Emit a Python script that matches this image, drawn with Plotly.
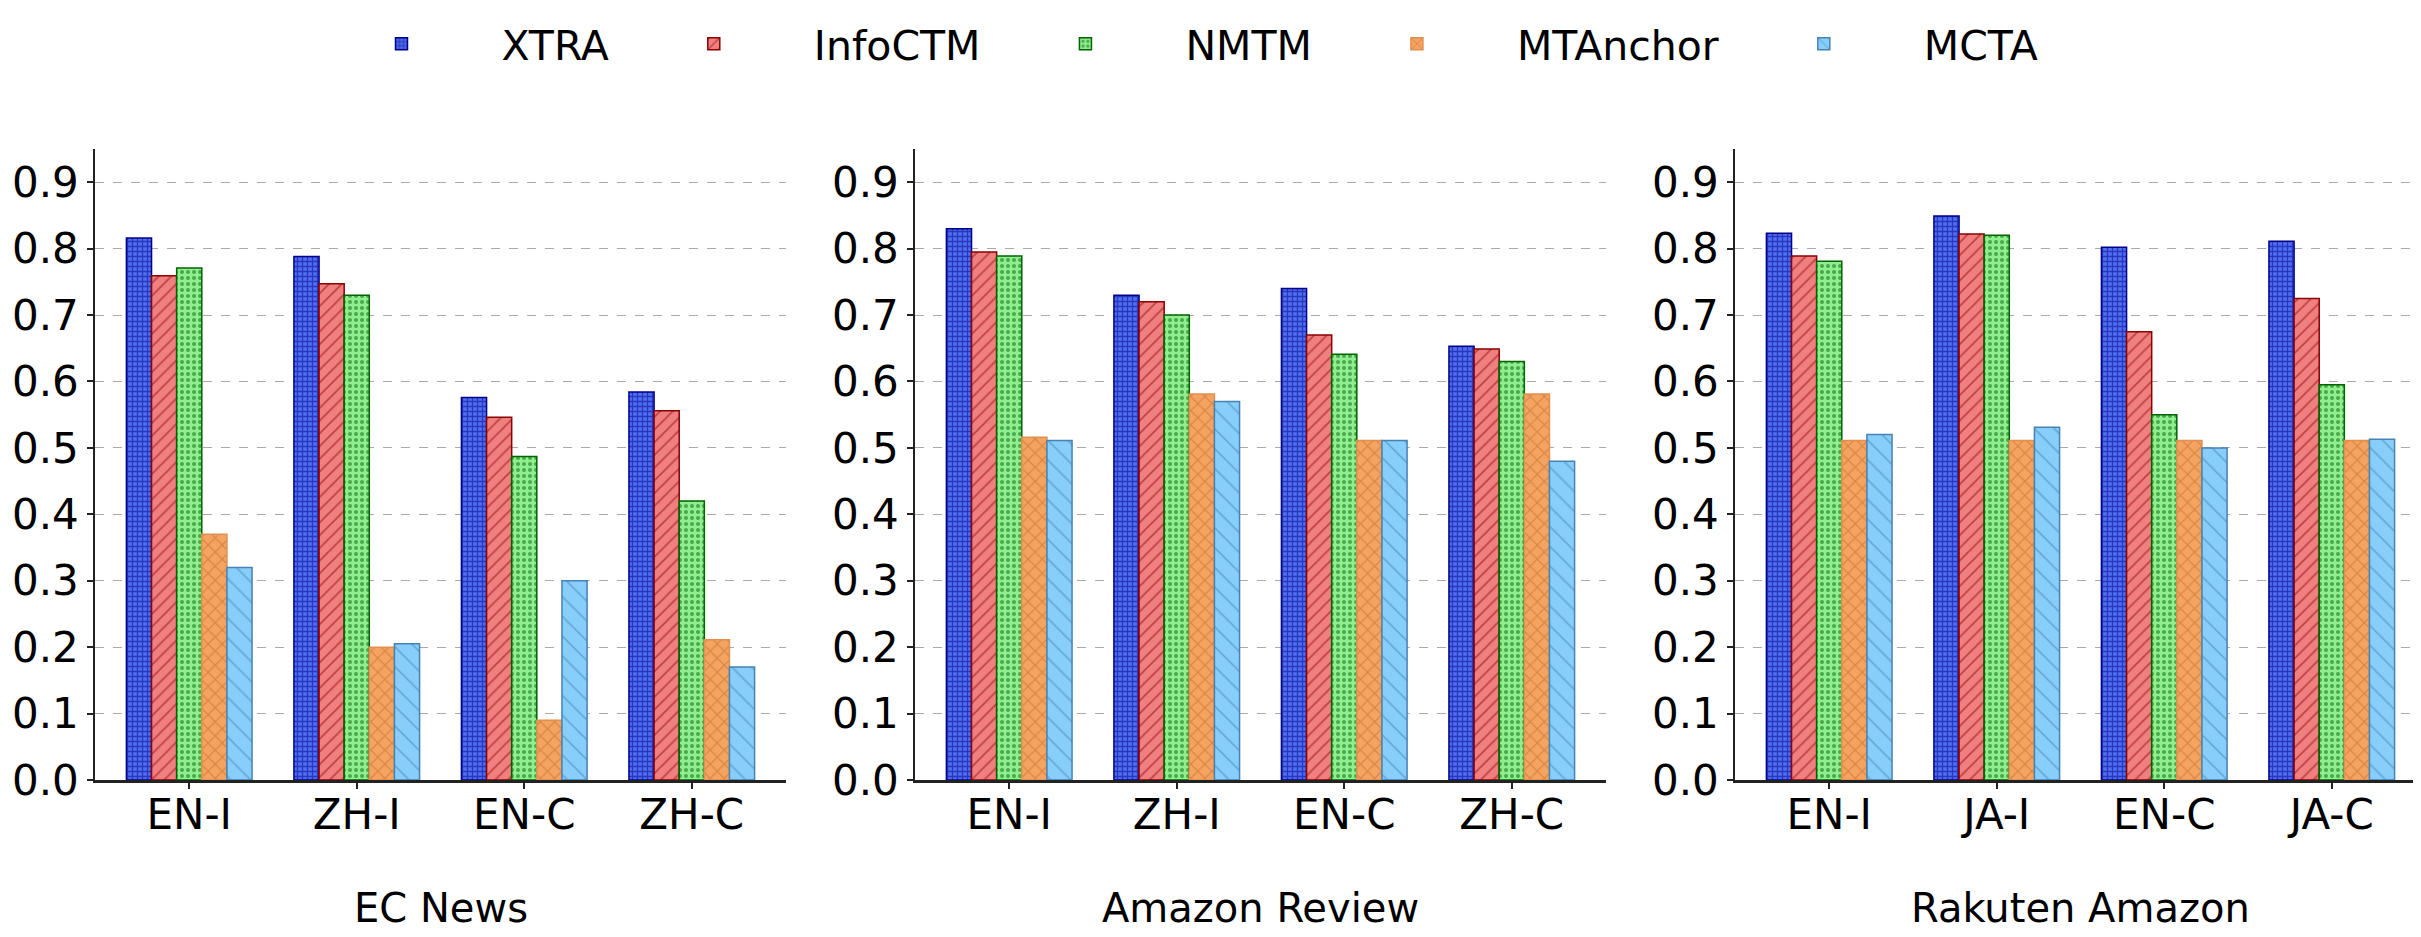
import plotly.graph_objects as go

# ---------------- data ----------------
methods = ["XTRA", "InfoCTM", "NMTM", "MTAnchor", "MCTA"]

dataset_titles = ["EC News", "Amazon Review", "Rakuten Amazon"]

ec_news_cats = ["EN-I", "ZH-I", "EN-C", "ZH-C"]
amazon_cats = ["EN-I", "ZH-I", "EN-C", "ZH-C"]
rakuten_cats = ["EN-I", "JA-I", "EN-C", "JA-C"]

ec_xtra = [0.816, 0.788, 0.576, 0.584]
ec_infoctm = [0.759, 0.747, 0.546, 0.556]
ec_nmtm = [0.771, 0.730, 0.487, 0.420]
ec_mtanchor = [0.370, 0.200, 0.090, 0.211]
ec_mcta = [0.320, 0.205, 0.300, 0.170]

am_xtra = [0.830, 0.730, 0.740, 0.653]
am_infoctm = [0.795, 0.720, 0.670, 0.649]
am_nmtm = [0.789, 0.700, 0.641, 0.630]
am_mtanchor = [0.516, 0.581, 0.511, 0.581]
am_mcta = [0.511, 0.570, 0.511, 0.480]

rk_xtra = [0.823, 0.849, 0.802, 0.811]
rk_infoctm = [0.789, 0.822, 0.675, 0.725]
rk_nmtm = [0.781, 0.820, 0.550, 0.595]
rk_mtanchor = [0.511, 0.511, 0.511, 0.511]
rk_mcta = [0.520, 0.531, 0.500, 0.513]

y_ticks = [0.0, 0.1, 0.2, 0.3, 0.4, 0.5, 0.6, 0.7, 0.8, 0.9]

# ---------------- styling ----------------
styles = {
    "XTRA": dict(bg="#4f6ef0", fg="#00008B", line="#00008B", shape="+", size=5, solidity=0.45),
    "InfoCTM": dict(bg="#F08080", fg="#8B0000", line="#8B0000", shape="/", size=9, solidity=0.18),
    "NMTM": dict(bg="#90EE90", fg="#006400", line="#006400", shape=".", size=6, solidity=0.35),
    "MTAnchor": dict(bg="#F4A460", fg="#C06828", line="#E09050", shape="x", size=10, solidity=0.22),
    "MCTA": dict(bg="#87CEFA", fg="#4682B4", line="#4682B4", shape="\\", size=14, solidity=0.12),
}

panels = [
    (ec_news_cats, [ec_xtra, ec_infoctm, ec_nmtm, ec_mtanchor, ec_mcta]),
    (amazon_cats, [am_xtra, am_infoctm, am_nmtm, am_mtanchor, am_mcta]),
    (rakuten_cats, [rk_xtra, rk_infoctm, rk_nmtm, rk_mtanchor, rk_mcta]),
]

W, H = 2421, 937
x_domains_px = [(87, 778), (907, 1598), (1727, 2418)]
y_bottom_px, y_top_px = 772, 141

FONT = "DejaVu Sans"

fig = go.Figure()

for p, (cats, series) in enumerate(panels):
    xa = "x" if p == 0 else f"x{p+1}"
    ya = "y" if p == 0 else f"y{p+1}"
    for m, vals in zip(methods, series):
        s = styles[m]
        fig.add_trace(go.Bar(
            x=cats, y=vals, name=m,
            xaxis=xa, yaxis=ya,
            legendgroup=m, showlegend=(p == 0),
            marker=dict(
                color=s["bg"],
                line=dict(color=s["line"], width=1.5),
                pattern=dict(shape=s["shape"], bgcolor=s["bg"], fgcolor=s["fg"],
                             size=s["size"], solidity=s["solidity"], fillmode="overlay"),
            ),
        ))

layout = dict(
    width=W, height=H,
    paper_bgcolor="white", plot_bgcolor="white",
    margin=dict(l=0, r=0, t=0, b=0),
    barmode="group", bargap=0.25, bargroupgap=0.0,
    font=dict(family=FONT, size=42, color="black"),
    legend=dict(
        orientation="h", x=0.481, xanchor="center", y=1 - 36 / H, yanchor="middle",
        font=dict(family=FONT, size=41),
        itemwidth=190, bgcolor="rgba(0,0,0,0)", traceorder="normal",
    ),
    annotations=[],
)

for p in range(3):
    xk = "xaxis" if p == 0 else f"xaxis{p+1}"
    yk = "yaxis" if p == 0 else f"yaxis{p+1}"
    x0, x1 = x_domains_px[p]
    layout[xk] = dict(
        domain=[x0 / W, x1 / W], anchor="y" if p == 0 else f"y{p+1}",
        type="category", range=[-0.5625, 3.5625],
        showline=True, linecolor="#222222", linewidth=2.5, mirror=False,
        ticks="outside", ticklen=6, tickwidth=1.5, tickcolor="#222222",
        ticklabelstandoff=-10,
        showgrid=False, zeroline=False, automargin=False,
        tickfont=dict(family=FONT, size=42, color="black"),
    )
    layout[yk] = dict(
        domain=[1 - y_bottom_px / H, 1 - y_top_px / H], anchor="x" if p == 0 else f"x{p+1}",
        range=[0, 0.95], tickvals=y_ticks, ticktext=[f"{v:.1f}" for v in y_ticks],
        showline=True, linecolor="#222222", linewidth=1.5,
        ticks="outside", ticklen=6, tickwidth=1.5, tickcolor="#222222",
        showgrid=True, gridcolor="#aaaaaa", griddash="dash", gridwidth=1,
        zeroline=False, automargin=False,
        tickfont=dict(family=FONT, size=42, color="black"),
    )
    layout["annotations"].append(dict(
        text=dataset_titles[p], xref="paper", yref="paper",
        x=(x0 + x1) / 2 / W, y=1 - 900 / H, xanchor="center", yanchor="middle",
        showarrow=False, font=dict(family=FONT, size=40, color="black"),
    ))

fig.update_layout(**layout)
fig.write_html("out.html")
